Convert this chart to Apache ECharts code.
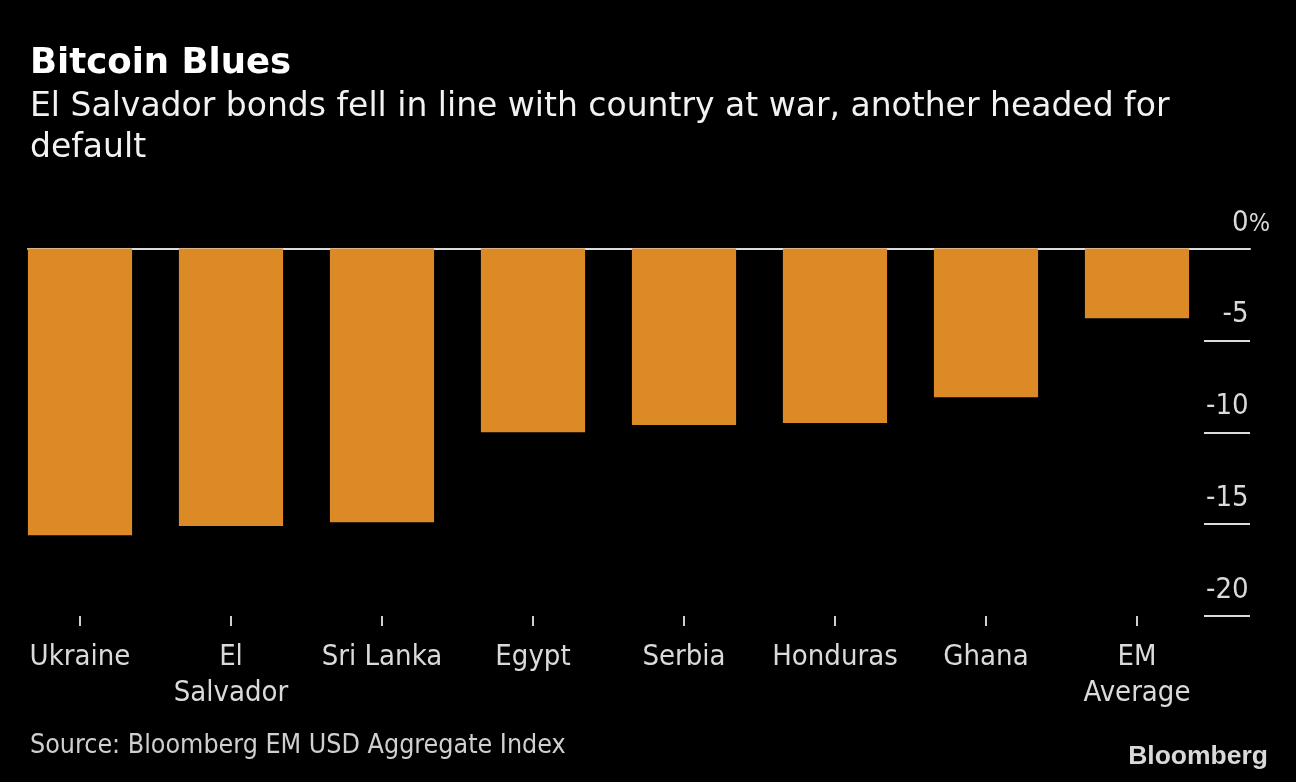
<!DOCTYPE html>
<html>
<head>
<meta charset="utf-8">
<script src="https://cdn.jsdelivr.net/npm/echarts@6/dist/echarts.min.js"></script>
<style>
html,body{margin:0;padding:0;background:#000;}
#chart{width:1296px;height:782px;}
</style>
</head>
<body>
<div id="chart"></div>
<script>
const categories = ['Ukraine', 'El\nSalvador', 'Sri Lanka', 'Egypt', 'Serbia', 'Honduras', 'Ghana', 'EM\nAverage'];
const returns = [-15.6, -15.1, -14.9, -10.0, -9.6, -9.5, -8.1, -3.8];
const yTicks = { min: -20, max: 0, step: 5 };
const titleText = 'Bitcoin Blues';
const subtitleText = 'El Salvador bonds fell in line with country at war, another headed for\ndefault';
const sourceText = 'Source: Bloomberg EM USD Aggregate Index';

const FONT = "'DejaVu Sans Condensed', 'DejaVu Sans', sans-serif";
const chart = echarts.init(document.getElementById('chart'), null, { renderer: 'canvas' });

const option = {
  backgroundColor: '#000',
  animation: false,
  title: [
    { text: titleText, left: 25, top: 41,
      textStyle: { fontFamily: "'DejaVu Sans', sans-serif", fontWeight: 'bold', fontSize: 35.5, color: '#ffffff' } },
    { text: subtitleText, left: 25, top: 82,
      textStyle: { fontFamily: "'DejaVu Sans', sans-serif", fontWeight: 'normal', fontSize: 33, lineHeight: 41, color: '#f2f2f2' } },
    { text: sourceText, left: 25, top: 728,
      textStyle: { fontFamily: FONT, fontWeight: 'normal', fontSize: 26.6, color: '#cfcfcf' } },
    { text: 'Bloomberg', right: 23, top: 738,
      textStyle: { fontFamily: "'Liberation Sans', Arial, sans-serif", fontWeight: 'bold', fontSize: 26.5, color: '#d9d9d9', letterSpacing: -0.6 } }
  ],
  grid: [
    { left: 4.5, right: 83.5, top: 248.5, bottom: 166, containLabel: false },
    { left: 28, right: 46, top: 248.5, bottom: 166, containLabel: false }
  ],
  xAxis: [
    { type: 'category', gridIndex: 0, data: categories, position: 'bottom',
      axisLine: { show: true, onZero: false, lineStyle: { color: 'rgba(0,0,0,0)' } },
      axisTick: { show: true, alignWithLabel: true, length: 10, lineStyle: { color: '#cfcfcf', width: 2 } },
      axisLabel: { interval: 0, margin: 23, fontFamily: FONT, fontSize: 29, lineHeight: 36, color: '#dadada' } },
    { type: 'category', gridIndex: 1, position: 'top', data: categories,
      axisLine: { show: true, onZero: false, lineStyle: { color: '#dcdcdc', width: 2 } },
      axisTick: { show: false }, axisLabel: { show: false } }
  ],
  yAxis: [
    { type: 'value', gridIndex: 0, min: yTicks.min, max: yTicks.max, interval: yTicks.step, show: false },
    { type: 'value', gridIndex: 1, position: 'right', min: yTicks.min, max: yTicks.max, interval: yTicks.step,
      axisLine: { show: false },
      splitLine: { show: false },
      axisTick: { show: true, inside: true, length: 46, lineStyle: { color: '#dcdcdc', width: 2 } },
      axisLabel: {
        inside: true, margin: -20, align: 'right', verticalAlign: 'bottom', padding: [0, 0, 11, 0],
        fontFamily: FONT, fontSize: 29, color: '#dadada',
        formatter: function (v) {
          return v === 0 ? '{n|0}{p|%}' : '{n|' + v + '}{h|%}';
        },
        rich: {
          n: { fontFamily: FONT, fontSize: 29, lineHeight: 34, color: '#dadada', verticalAlign: 'bottom' },
          p: { fontFamily: FONT, fontSize: 25, lineHeight: 34, color: '#dadada', verticalAlign: 'bottom', padding: [0, 0, 1, 0] },
          h: { fontFamily: FONT, fontSize: 25, lineHeight: 34, color: 'rgba(0,0,0,0)', verticalAlign: 'bottom', padding: [0, 0, 1, 0] }
        }
      } }
  ],
  series: [
    { type: 'bar', xAxisIndex: 0, yAxisIndex: 0, data: returns, barCategoryGap: '31%', z: 5,
      itemStyle: { color: '#db8a26' } }
  ]
};
chart.setOption(option);
</script>
</body>
</html>
